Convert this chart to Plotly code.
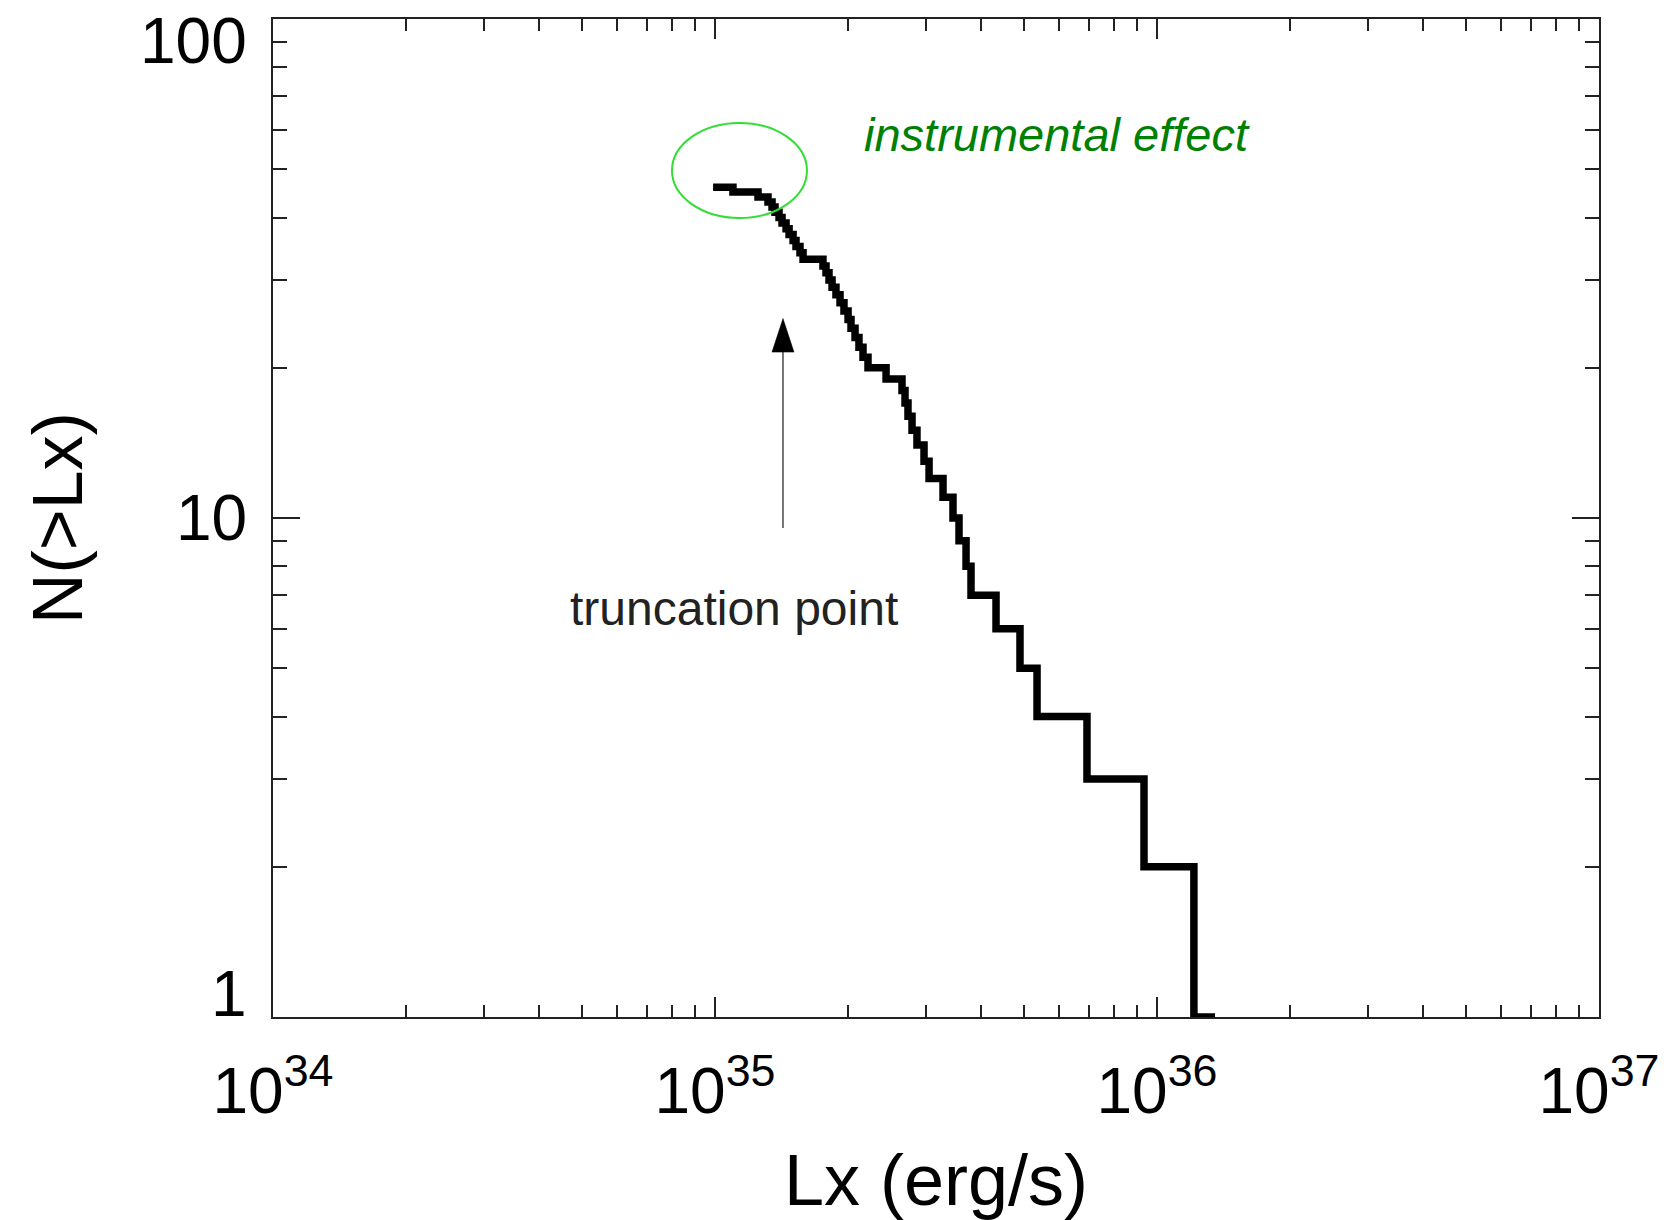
import math
import plotly.graph_objects as go

# ---- data: cumulative luminosity function N(>Lx) ----
step_lx = [9.90e34, 1.098e35, 1.251e35, 1.318e35, 1.346e35, 1.367e35, 1.396e35, 1.418e35,
           1.448e35, 1.471e35, 1.502e35, 1.525e35, 1.557e35, 1.582e35, 1.755e35, 1.783e35,
           1.811e35, 1.840e35, 1.878e35, 1.918e35, 1.958e35, 2.000e35, 2.031e35, 2.074e35,
           2.117e35, 2.162e35, 2.219e35, 2.438e35, 2.649e35, 2.691e35, 2.733e35, 2.791e35,
           2.864e35, 2.971e35, 3.050e35, 3.280e35, 3.455e35, 3.565e35, 3.698e35, 3.795e35,
           4.323e35, 4.898e35, 5.353e35, 6.944e35, 9.345e35, 1.212e36, 1.353e36]
step_n = [46, 45, 44, 43, 42, 41, 40, 39, 38, 37, 36, 35, 34, 33, 32, 31, 30, 29, 28, 27,
          26, 25, 24, 23, 22, 21, 20, 19, 18, 17, 16, 15, 14, 13, 12, 11, 10, 9, 8, 7,
          6, 5, 4, 3, 2, 1, 1]

x_tickvals = [1e34, 1e35, 1e36, 1e37]
x_ticktext = ["10<sup>34</sup>", "10<sup>35</sup>", "10<sup>36</sup>", "10<sup>37</sup>"]
y_tickvals = [1, 10, 100]
y_ticktext = ["1", "10", "100"]

x_range_log = [34, 37]
y_range_log = [0, 2]

# annotation anchors (data units)
trunc_lx = 1.425e35
arrow_tip_n = 25.1
arrow_head_base_n = 21.5
arrow_tail_n = 9.55
ellipse_center_lx = 1.136e35
ellipse_center_n = 49.7
ellipse_rx_dec = 0.1527
ellipse_ry_dec = 0.0952

x_minor = [float(m) * 10.0 ** e for e in (34, 35, 36) for m in range(2, 10)]
y_minor = [float(m) * 10.0 ** e for e in (0, 1) for m in range(2, 10)]

AXC = "#222222"
FONT = "Liberation Sans, Arial, sans-serif"

fig = go.Figure()
fig.add_trace(go.Scatter(x=step_lx, y=step_n, mode="lines", line_shape="hv",
                         line=dict(color="black", width=7.5), showlegend=False,
                         hoverinfo="skip"))

xspan = x_range_log[1] - x_range_log[0]
yspan = y_range_log[1] - y_range_log[0]

def px_x(lx):
    return (math.log10(lx) - x_range_log[0]) / xspan

def px_y(n):
    return (math.log10(n) - y_range_log[0]) / yspan

shapes = []
# green ellipse (paper coordinates derived from data-space centre)
ecx = px_x(ellipse_center_lx)
ecy = px_y(ellipse_center_n)
shapes.append(dict(type="circle", xref="paper", yref="paper",
                   x0=ecx - ellipse_rx_dec / xspan, x1=ecx + ellipse_rx_dec / xspan,
                   y0=ecy - ellipse_ry_dec / yspan, y1=ecy + ellipse_ry_dec / yspan,
                   line=dict(color="#33dd33", width=2)))
# arrow shaft
ax_p = px_x(trunc_lx)
shapes.append(dict(type="line", xref="paper", yref="paper",
                   x0=ax_p, x1=ax_p, y0=px_y(arrow_tail_n), y1=px_y(arrow_head_base_n),
                   line=dict(color="#555555", width=1.6)))
# arrow head
hw = 11 / 1326
tip_y = px_y(arrow_tip_n)
base_y = px_y(arrow_head_base_n)
shapes.append(dict(type="path", xref="paper", yref="paper",
                   path=f"M {ax_p - hw} {base_y} L {ax_p + hw} {base_y} L {ax_p} {tip_y} Z",
                   fillcolor="black", line=dict(color="black", width=0.5)))

annotations = []
# y tick labels (placed like original: top label inside range, bottom label raised)
y_label_shift = [23, 0, -22]
for v, t, s in zip(y_tickvals, y_ticktext, y_label_shift):
    annotations.append(dict(x=0, xref="paper", y=math.log10(v), yref="y", text=t,
                            showarrow=False, xanchor="right", yanchor="middle",
                            xshift=-24, yshift=s,
                            font=dict(family=FONT, size=64, color="black")))
# y axis title
annotations.append(dict(x=-0.1621, y=0.5, xref="paper", yref="paper",
                        text="N(>Lx)", textangle=-90, showarrow=False,
                        xanchor="center", yanchor="middle",
                        font=dict(family=FONT, size=70, color="black")))
annotations.append(dict(x=0.5916, y=0.8838, xref="paper", yref="paper",
                        text="<i>instrumental effect</i>", showarrow=False,
                        xanchor="center", yanchor="middle",
                        font=dict(family=FONT, size=47, color="#008000")))
annotations.append(dict(x=0.3480, y=0.4098, xref="paper", yref="paper",
                        text="truncation point", showarrow=False,
                        xanchor="center", yanchor="middle",
                        font=dict(family=FONT, size=48, color="#222222")))

fig.update_layout(
    width=1667, height=1220,
    margin=dict(l=273, r=68, t=19, b=203),
    paper_bgcolor="white", plot_bgcolor="white",
    shapes=shapes, annotations=annotations,
    showlegend=False,
)
fig.update_xaxes(type="log", range=x_range_log, showgrid=False, zeroline=False,
                 showline=True, linecolor=AXC, linewidth=2, mirror="allticks",
                 ticks="inside", ticklen=20, tickwidth=2, tickcolor=AXC,
                 tickvals=x_tickvals, ticktext=x_ticktext,
                 tickfont=dict(family=FONT, size=64, color="black"),
                 ticklabelstandoff=17,
                 minor=dict(ticks="inside", ticklen=12, tickwidth=1.6, tickcolor=AXC,
                            tickvals=x_minor, showgrid=False),
                 title=dict(text="Lx (erg/s)", standoff=34,
                            font=dict(family=FONT, size=72, color="black")),
                 automargin=False)
fig.update_yaxes(type="log", range=y_range_log, showgrid=False, zeroline=False,
                 showline=True, linecolor=AXC, linewidth=2, mirror="allticks",
                 ticks="inside", ticklen=27, tickwidth=2, tickcolor=AXC,
                 tickvals=y_tickvals, showticklabels=False,
                 minor=dict(ticks="inside", ticklen=14, tickwidth=1.6, tickcolor=AXC,
                            tickvals=y_minor, showgrid=False),
                 automargin=False)

fig.write_html("out.html")
